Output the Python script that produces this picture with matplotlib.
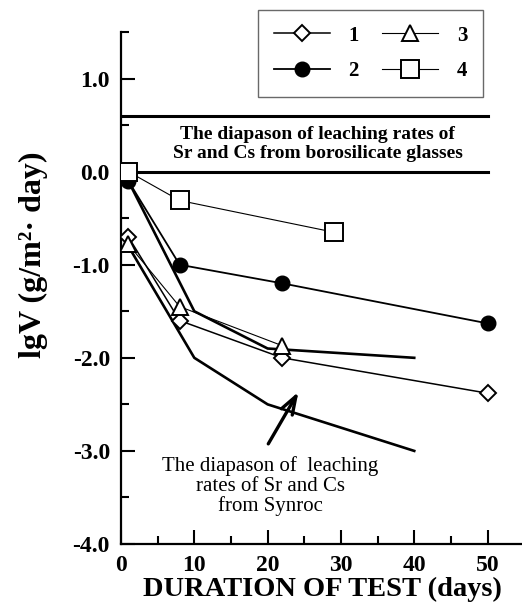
import numpy as np
import matplotlib.pyplot as plt

plt.rcParams['font.family'] = ['Liberation Serif', 'DejaVu Serif']

# Data
days1 = [1, 8, 22, 50]
lgv1 = [-0.70, -1.60, -2.00, -2.38]
days2 = [1, 8, 22, 50]
lgv2 = [-0.10, -1.00, -1.20, -1.63]
days3 = [1, 8, 22]
lgv3 = [-0.78, -1.45, -1.87]
days4 = [1, 8, 29]
lgv4 = [0.00, -0.31, -0.65]

# Synroc band bounds
syn_days = [1, 10, 20, 40]
syn_upper = [-0.10, -1.50, -1.90, -2.00]
syn_lower = [-0.80, -2.00, -2.50, -3.00]

# borosilicate glass band
glass_band = [0.6, 0.0]

fig = plt.figure(figsize=(5.22, 6.04), dpi=100)
ax = fig.add_axes([121/522, 60/604, 1 - 121/522, (544-32)/604])

for y in glass_band:
    ax.plot([0, 50], [y, y], color='k', lw=2.2, zorder=2)

ax.plot(syn_days, syn_upper, color='k', lw=1.9, zorder=3)
ax.plot(syn_days, syn_lower, color='k', lw=1.9, zorder=3)

ax.plot(days1, lgv1, color='k', lw=1.1, marker='D', ms=8, mfc='white',
        mec='k', mew=1.4, label='1', zorder=4)
ax.plot(days2, lgv2, color='k', lw=1.3, marker='o', ms=10.5, mfc='k',
        mec='k', label='2', zorder=4)
ax.plot(days3, lgv3, color='k', lw=0.8, marker='^', ms=11, mfc='white',
        mec='k', mew=1.4, label='3', zorder=4)
ax.plot(days4, lgv4, color='k', lw=0.8, marker='s', ms=12.5, mfc='white',
        mec='k', mew=1.4, label='4', zorder=4)

ax.text(26.8, 0.30, 'The diapason of leaching rates of\nSr and Cs from borosilicate glasses',
        ha='center', va='center', fontsize=14, fontweight='bold', linespacing=1.15)

ax.text(20.4, -3.38, 'The diapason of  leaching\nrates of Sr and Cs\nfrom Synroc',
        ha='center', va='center', fontsize=15, linespacing=1.05)

ax.annotate('', xy=(24.4, -2.34), xytext=(19.9, -2.95),
            arrowprops=dict(arrowstyle='->,head_length=1.3,head_width=0.45',
                            color='k', lw=2.4))

ax.set_xlim(0, 54.7)
ax.set_ylim(-4, 1.5)
ax.set_xticks([0, 10, 20, 30, 40, 50])
ax.set_xticks(np.arange(5, 55, 10), minor=True)
ax.set_yticks([-4, -3, -2, -1, 0, 1])
ax.set_yticklabels(['-4.0', '-3.0', '-2.0', '-1.0', '0.0', '1.0'])
ax.set_yticks([-3.5, -2.5, -1.5, -0.5, 0.5, 1.5], minor=True)
ax.tick_params(which='both', direction='in', width=1.5, labelsize=17)
ax.tick_params(which='major', length=10)
ax.tick_params(which='minor', length=6)
for lab in ax.get_xticklabels() + ax.get_yticklabels():
    lab.set_fontweight('bold')
ax.tick_params(axis='x', pad=8)
ax.tick_params(axis='y', pad=8)

ax.spines['top'].set_visible(False)
ax.spines['right'].set_visible(False)
for s in ['left', 'bottom']:
    ax.spines[s].set_linewidth(1.6)

fig.text(322/522, 1 - 589/604, 'DURATION OF TEST (days)', ha='center', va='center',
         fontsize=20.5, fontweight='bold')
fig.text(33/522, 1 - 255/604, 'lgV (g/m²· day)', ha='center', va='center',
         rotation=90, fontsize=23, fontweight='bold')

leg = ax.legend(loc='upper right', bbox_to_anchor=(483/522, 1 - 10/604),
                bbox_transform=fig.transFigure, borderaxespad=0, ncol=2,
                fancybox=False, frameon=True, handlelength=2.7, columnspacing=1.1,
                prop={'weight': 'bold', 'size': 15}, labelspacing=0.75,
                borderpad=0.75, handletextpad=0.9)
leg.get_frame().set_edgecolor('#444444')
leg.get_frame().set_linewidth(1.0)

fig.savefig('out.png', dpi=100)
